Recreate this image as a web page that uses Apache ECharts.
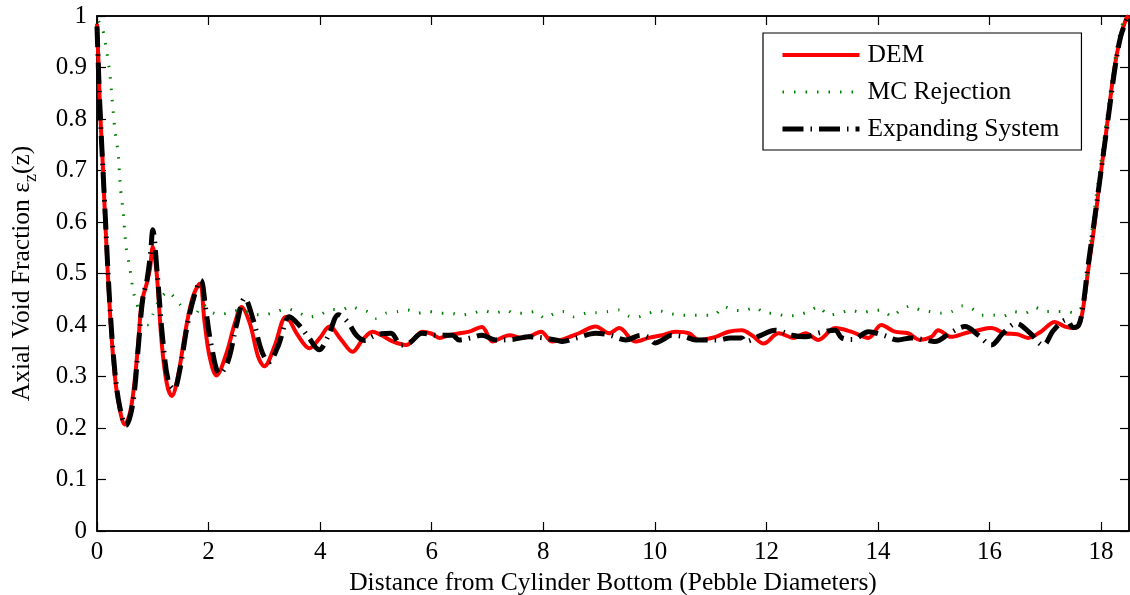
<!DOCTYPE html>
<html>
<head>
<meta charset="utf-8">
<script src="https://cdn.jsdelivr.net/npm/echarts@6/dist/echarts.min.js"></script>
<style>
  html, body { margin: 0; padding: 0; background: #fff; }
  #chart { width: 1130px; height: 595px; }
</style>
</head>
<body>
<div id="chart"></div>
<script>
// axial void fraction along the bed, x in pebble diameters
var demX = [
  0, 0.03, 0.054, 0.1, 0.14, 0.23, 0.32, 0.41, 0.5, 0.58,
  0.65, 0.74, 0.8, 0.89, 0.95, 1.0, 1.07, 1.16, 1.25, 1.34,
  1.45, 1.6, 1.72, 1.84, 1.93, 2.02, 2.14, 2.32, 2.47, 2.59,
  2.74, 2.89, 3.0, 3.18, 3.39, 3.6, 3.81, 3.99, 4.17, 4.38,
  4.58, 4.76, 4.94, 5.1, 5.3, 5.54, 5.7, 5.83, 6.0, 6.14,
  6.31, 6.5, 6.67, 6.9, 7.09, 7.25, 7.39, 7.63, 7.8, 7.96,
  8.16, 8.35, 8.64, 8.94, 9.18, 9.36, 9.65, 9.89, 10.13, 10.37,
  10.61, 10.79, 11.09, 11.32, 11.56, 11.74, 11.95, 12.22, 12.49, 12.7,
  12.93, 13.23, 13.52, 13.83, 14.06, 14.3, 14.54, 14.75, 14.96, 15.08,
  15.31, 15.56, 15.8, 16.03, 16.27, 16.5, 16.69, 16.92, 17.17, 17.35,
  17.53, 17.62, 17.7, 17.76, 17.82, 17.9, 17.97, 18.05, 18.12, 18.24,
  18.35, 18.45, 18.5
];
var demY = [
  0.985, 0.9, 0.82, 0.72, 0.62, 0.43, 0.30, 0.235, 0.207, 0.225,
  0.268, 0.365, 0.443, 0.48, 0.51, 0.552, 0.50, 0.365, 0.287, 0.262,
  0.30, 0.397, 0.455, 0.48, 0.404, 0.338, 0.302, 0.345, 0.403, 0.435,
  0.403, 0.338, 0.32, 0.358, 0.416, 0.38, 0.355, 0.374, 0.397, 0.371,
  0.348, 0.371, 0.387, 0.38, 0.368, 0.361, 0.375, 0.387, 0.383, 0.375,
  0.38, 0.384, 0.387, 0.396, 0.368, 0.375, 0.38, 0.375, 0.38, 0.387,
  0.368, 0.372, 0.384, 0.397, 0.384, 0.394, 0.368, 0.375, 0.38, 0.387,
  0.384, 0.371, 0.377, 0.387, 0.39, 0.38, 0.364, 0.384, 0.375, 0.384,
  0.371, 0.394, 0.387, 0.375, 0.40, 0.387, 0.384, 0.371, 0.377, 0.39,
  0.377, 0.384, 0.39, 0.394, 0.384, 0.382, 0.375, 0.387, 0.406, 0.397,
  0.394, 0.404, 0.449, 0.50, 0.546, 0.61, 0.675, 0.74, 0.80, 0.90,
  0.96, 0.995, 1.0
];

var mcX = [
  0.03, 0.1, 0.17, 0.23, 0.27, 0.32, 0.38, 0.42, 0.47, 0.52,
  0.59, 0.65, 0.71, 0.8, 0.9, 1.0, 1.12, 1.27, 1.45, 1.6,
  1.75, 1.9, 2.05, 2.2, 2.4, 2.6, 2.8, 3.0, 3.2, 3.4,
  3.6, 3.8, 4.0, 4.2, 4.4, 4.55, 4.7, 4.85, 5.0, 5.18,
  5.39, 5.57, 5.75, 5.96, 6.17, 6.35, 6.53, 6.74, 6.92, 7.13,
  7.34, 7.46, 7.64, 7.85, 8.03, 8.21, 8.37, 8.55, 8.76, 8.94,
  9.15, 9.36, 9.54, 9.68, 9.89, 10.07, 10.25, 10.46, 10.67, 10.85,
  11.06, 11.24, 11.41, 11.59, 11.8, 11.98, 12.16, 12.34, 12.55, 12.76,
  12.93, 13.11, 13.32, 13.5, 13.71, 13.89, 14.07, 14.25, 14.4, 14.58,
  14.76, 14.94, 15.14, 15.32, 15.5, 15.68, 15.86, 16.07, 16.25, 16.43,
  16.64, 16.82, 17.0, 17.18, 17.39, 17.54, 17.66, 17.72, 17.8, 17.9,
  18.0, 18.1, 18.2, 18.3, 18.4, 18.47
];
var mcY = [
  0.99, 0.975, 0.934, 0.889, 0.84, 0.779, 0.733, 0.666, 0.62, 0.552,
  0.51, 0.465, 0.443, 0.41, 0.40, 0.42, 0.45, 0.465, 0.445, 0.425,
  0.42, 0.44, 0.425, 0.42, 0.425, 0.43, 0.42, 0.42, 0.425, 0.432,
  0.425, 0.415, 0.42, 0.43, 0.43, 0.437, 0.43, 0.426, 0.413, 0.423,
  0.426, 0.429, 0.423, 0.426, 0.423, 0.423, 0.419, 0.423, 0.428, 0.423,
  0.429, 0.423, 0.423, 0.426, 0.413, 0.423, 0.426, 0.416, 0.423, 0.424,
  0.426, 0.429, 0.417, 0.415, 0.423, 0.428, 0.423, 0.419, 0.419, 0.419,
  0.419, 0.436, 0.429, 0.428, 0.434, 0.423, 0.423, 0.417, 0.419, 0.426,
  0.436, 0.419, 0.423, 0.429, 0.424, 0.428, 0.429, 0.416, 0.429, 0.437,
  0.429, 0.426, 0.423, 0.426, 0.437, 0.432, 0.419, 0.419, 0.417, 0.426,
  0.423, 0.434, 0.426, 0.426, 0.426, 0.423, 0.436, 0.47, 0.55, 0.64,
  0.72, 0.80, 0.88, 0.95, 0.99, 1.0
];

var expX = [
  0, 0.05, 0.14, 0.23, 0.32, 0.41, 0.52, 0.6, 0.67, 0.75,
  0.82, 0.9, 0.96, 1.0, 1.08, 1.18, 1.28, 1.38, 1.48, 1.62,
  1.74, 1.86, 1.95, 2.05, 2.2, 2.35, 2.5, 2.65, 2.8, 2.95,
  3.08, 3.25, 3.45, 3.62, 3.8, 3.98, 4.15, 4.33, 4.5, 4.65,
  4.8, 4.95, 5.1, 5.27, 5.45, 5.6, 5.83, 6.1, 6.37, 6.49,
  6.7, 6.9, 7.15, 7.45, 7.75, 8.0, 8.22, 8.34, 8.6, 8.94,
  9.2, 9.48, 9.75, 9.9, 10.01, 10.15, 10.3, 10.55, 10.73, 10.95,
  11.15, 11.35, 11.56, 11.62, 11.9, 12.16, 12.45, 12.7, 12.95, 13.23,
  13.35, 13.55, 13.83, 14.1, 14.36, 14.6, 14.84, 15.02, 15.3, 15.56,
  15.8, 16.03, 16.25, 16.48, 16.72, 16.96, 17.15, 17.38, 17.5, 17.6,
  17.68, 17.76, 17.85, 17.95, 18.05, 18.15, 18.25, 18.35, 18.45, 18.5
];
var expY = [
  0.98, 0.83, 0.63, 0.44, 0.31, 0.24, 0.205, 0.225, 0.27, 0.37,
  0.45, 0.49, 0.54, 0.585, 0.50, 0.37, 0.29, 0.275, 0.31, 0.40,
  0.455, 0.487, 0.43, 0.36, 0.305, 0.33, 0.40, 0.452, 0.41, 0.35,
  0.328, 0.36, 0.416, 0.40, 0.375, 0.352, 0.38, 0.42, 0.405, 0.38,
  0.37, 0.378, 0.383, 0.384, 0.361, 0.365, 0.384, 0.38, 0.38, 0.371,
  0.375, 0.38, 0.371, 0.372, 0.377, 0.375, 0.371, 0.368, 0.375, 0.384,
  0.38, 0.371, 0.38, 0.375, 0.365, 0.372, 0.38, 0.377, 0.371, 0.371,
  0.371, 0.375, 0.375, 0.368, 0.38, 0.39, 0.38, 0.377, 0.385, 0.39,
  0.375, 0.372, 0.387, 0.38, 0.371, 0.375, 0.371, 0.368, 0.385, 0.397,
  0.38, 0.361, 0.385, 0.403, 0.385, 0.361, 0.39, 0.41, 0.395, 0.40,
  0.44, 0.51, 0.58, 0.66, 0.74, 0.82, 0.90, 0.96, 0.99, 1.0
];

var FONT = '"Liberation Serif", "Times New Roman", serif';

function pares(xs, ys) {
  return xs.map(function (x, i) { return [x, ys[i]]; });
}

var chart = echarts.init(document.getElementById('chart'));

var ejeBase = {
  axisLine: { show: true, onZero: false, lineStyle: { color: '#000', width: 1.5 } },
  axisTick: { show: true, inside: true, length: 9, lineStyle: { color: '#000', width: 1.2 } },
  splitLine: { show: false }
};

var option = {
  animation: false,
  backgroundColor: '#fff',
  grid: {
    left: 97, right: 1, top: 16, bottom: 64,
    containLabel: false, outerBoundsMode: 'none',
    show: true, borderColor: '#000', borderWidth: 1.5
  },
  legend: {
    orient: 'vertical',
    left: 763, top: 33,
    padding: [9, 22, 8, 17],
    itemWidth: 77, itemHeight: 14, itemGap: 11,
    borderColor: '#000', borderWidth: 1.2,
    backgroundColor: '#fff',
    itemStyle: { opacity: 0, borderWidth: 0 },
    textStyle: { fontFamily: FONT, fontSize: 25.5, color: '#000', lineHeight: 26, padding: [0, 0, 0, 3] },
    data: [
      { name: 'DEM', lineStyle: { width: 4 } },
      { name: 'MC Rejection', lineStyle: { width: 3 } },
      { name: 'Expanding System', lineStyle: { width: 5 } }
    ]
  },
  xAxis: [
    Object.assign({}, ejeBase, {
      type: 'value', min: 0, max: 18.5, interval: 2,
      name: 'Distance from Cylinder Bottom (Pebble Diameters)',
      nameLocation: 'middle', nameGap: 37,
      nameTextStyle: { fontFamily: FONT, fontSize: 25.5, color: '#000' },
      axisLabel: { fontFamily: FONT, fontSize: 25, color: '#000', margin: 9, showMaxLabel: false }
    }),
    Object.assign({}, ejeBase, {
      type: 'value', min: 0, max: 18.5, interval: 2, position: 'top',
      axisLabel: { show: false }
    })
  ],
  yAxis: [
    Object.assign({}, ejeBase, {
      type: 'value', min: 0, max: 1, interval: 0.1,
      name: '{a|Axial Void Fraction ε}{s|z}{a|(z)}',
      nameLocation: 'middle', nameGap: 62,
      nameTextStyle: {
        fontFamily: FONT, fontSize: 25.5, color: '#000',
        rich: {
          a: { fontFamily: FONT, fontSize: 25.5, color: '#000', lineHeight: 26, verticalAlign: 'top' },
          s: { fontFamily: FONT, fontSize: 18, color: '#000', lineHeight: 18, verticalAlign: 'top', padding: [13, 0, 0, 0] }
        }
      },
      axisLabel: { fontFamily: FONT, fontSize: 25, color: '#000', margin: 10 }
    }),
    Object.assign({}, ejeBase, {
      type: 'value', min: 0, max: 1, interval: 0.1, position: 'right',
      axisLabel: { show: false }
    })
  ],
  series: [
    {
      name: 'DEM', type: 'line', showSymbol: false, symbol: 'none',
      smooth: 0.35,
      lineStyle: { color: '#ff0000', width: 4 },
      itemStyle: { color: '#ff0000' },
      data: pares(demX, demY)
    },
    {
      name: 'MC Rejection', type: 'line', showSymbol: false, symbol: 'none',
      smooth: 0.2,
      lineStyle: { color: '#008000', width: 3, type: [1.5, 10], cap: 'butt' },
      itemStyle: { color: '#008000' },
      data: pares(mcX, mcY)
    },
    {
      name: 'Expanding System', type: 'line', showSymbol: false, symbol: 'none',
      smooth: 0.35,
      lineStyle: { color: '#000', width: 5, type: [21, 7, 1.5, 7], cap: 'butt' },
      itemStyle: { color: '#000' },
      data: pares(expX, expY)
    }
  ]
};

chart.setOption(option);
</script>
</body>
</html>
